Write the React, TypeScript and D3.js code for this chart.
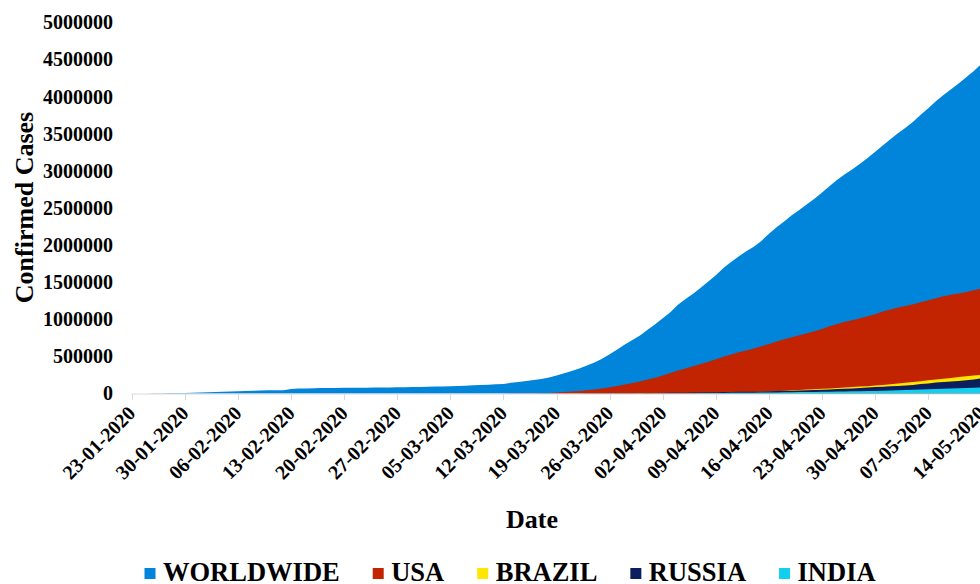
import React, { useEffect, useRef } from "react";
import * as d3 from "d3";

// Daily cumulative confirmed cases, 23-01-2020 .. 14-05-2020
const startDate = "2020-01-23";

const tickLabels = [
  "23-01-2020", "30-01-2020", "06-02-2020", "13-02-2020", "20-02-2020", "27-02-2020",
  "05-03-2020", "12-03-2020", "19-03-2020", "26-03-2020", "02-04-2020", "09-04-2020",
  "16-04-2020", "23-04-2020", "30-04-2020", "07-05-2020", "14-05-2020",
];

const yTicks = [0, 500000, 1000000, 1500000, 2000000, 2500000, 3000000, 3500000, 4000000, 4500000, 5000000];

const worldwide = [
  654, 941, 1434, 2118, 2927, 5578, 6166, 8234, 9927,
  12038, 16787, 19881, 23892, 27635, 30794, 34391, 37120, 40150, 42762, 44802, 45221, 60368, 66885, 69030,
  71224, 73258, 75136, 75639, 76197, 76819, 78572, 78958, 79561, 80406, 81388, 82746, 84112, 86011,
  88369, 90306, 92840, 95120, 97886, 101801, 105847, 109821, 113590, 118620, 125875, 128352, 145205, 156101,
  167454, 181574, 197102, 214821, 242570, 272208, 304507, 336953, 378231, 418041, 467653, 529591, 593291,
  660706, 720117, 782365, 857487,
  932605, 1013466, 1095917, 1197405, 1272115, 1345101, 1426096, 1511104, 1595350, 1691719, 1771514, 1846679,
  1917320, 1976192, 2056054, 2152437, 2240190, 2317759, 2401379, 2472259, 2549123, 2624004, 2708360, 2795735,
  2881140, 2955033, 3023722, 3097229, 3172287, 3256853,
  3343777, 3427343, 3506729, 3583055, 3662691, 3755341, 3845718, 3938064, 4024009, 4101699, 4177502, 4261747,
  4347018, 4442163,
];

const usa = [
  1, 2, 2, 5, 5, 5, 6, 6, 8,
  8, 8, 11, 11, 12, 12, 12, 12, 12, 12, 13, 13, 14, 14, 14, 14, 14, 14, 14, 14, 35, 35, 35, 53, 53, 59, 60, 62, 70,
  76, 101, 122, 153, 221, 278, 417, 537, 605, 959, 1281, 1663, 2179, 2726, 3499, 4632, 6421, 7786, 13680, 19101,
  25493, 33276, 43847, 53740, 65778, 83836, 101657, 121465, 140909, 161831, 188172,
  213242, 243622, 275367, 308650, 336802, 366317, 397121, 428654, 462780, 496535, 526396, 555313, 580619,
  607670, 636350, 667801, 699706, 732197, 759086, 784326, 811865, 840351, 869170, 905358, 938154, 965785,
  988197, 1012582, 1039909, 1069424,
  1103461, 1132539, 1158040, 1180375, 1204351, 1229331, 1257023, 1283929, 1309550, 1329260, 1347881, 1369376,
  1390406, 1417774,
];

const brazil = [
  0, 0, 0, 0, 0, 0, 0, 0, 2,
  2, 2, 2, 2, 2, 2, 2, 2, 2, 2, 2, 2, 2, 2, 2, 2, 2, 2, 2, 2, 2, 2, 2, 2, 2, 2, 2, 2, 2,
  2, 3, 3, 3, 4, 13, 13, 17, 17, 20, 20, 28, 45, 59, 63, 90, 114, 147, 199, 253, 306, 367, 438, 495, 658, 840,
  1036, 1264, 1534, 1836, 2337,
  2777, 3548, 4149, 4731, 5389, 6343, 7497, 8672, 10131, 11917, 13584, 15770, 18328, 21102, 24490, 27938,
  32008, 36793, 42853, 47121, 52763, 57999, 62773, 68622, 74588, 80949, 87147, 93558, 99399, 106498,
  114431, 124054, 134686, 145268, 155370, 165929, 177160, 187859, 198676, 209688, 221344, 232243, 242271, 252245,
];

const russia = [
  0, 0, 0, 0, 0, 0, 0, 0, 0,
  0, 0, 0, 0, 0, 0, 0, 0, 0, 0, 0, 0, 0, 0, 0, 0, 0, 0, 0, 0, 0, 0, 0, 0, 0, 1, 1, 1, 2,
  2, 2, 2, 4, 4, 13, 13, 20, 25, 31, 38, 52, 151, 151, 162, 200, 321, 372, 621, 793, 1021, 1546, 1924, 2247,
  2554, 2985, 3417, 3904, 4256, 4579, 5717,
  6836, 8044, 9056, 10360, 11130, 12161, 14034, 16170, 18092, 19638, 20727, 22192, 23430, 25262, 28320, 30425,
  33682, 36658, 38654, 40743, 43079, 45757, 50036, 54043, 59324, 63100, 67446, 73235, 79685, 87187,
  92202, 97100, 101826, 108620, 115455, 126611, 135773, 146894, 156061, 162699, 169594, 178214, 190137, 203165,
];

const india = [
  0, 0, 0, 0, 0, 0, 0, 1, 1,
  1, 2, 3, 3, 3, 3, 3, 3, 3, 3, 3, 3, 3, 3, 3, 3, 3, 3, 3, 3, 3, 3, 3, 3, 3, 3, 3, 3, 3,
  3, 5, 5, 28, 30, 31, 34, 39, 43, 56, 62, 73, 82, 102, 113, 119, 142, 156, 194, 244, 330, 396, 499, 536, 657,
  727, 887, 987, 1024, 1251, 1397,
  1998, 2543, 2567, 3082, 3588, 4778, 5311, 5916, 6725, 7598, 8446, 9205, 10453, 11487, 12322, 13430, 14352,
  15722, 17615, 18539, 20080, 21370, 23077, 24530, 26283, 27890, 29451, 31324, 33062, 34863,
  37257, 39699, 42505, 46437, 49400, 52987, 56351, 59695, 62808, 67161, 70768, 74292, 78055, 81997,
];

const seriesNames = ["WORLDWIDE", "USA", "BRAZIL", "RUSSIA", "INDIA"];
const seriesValues = [worldwide, usa, brazil, russia, india];
const seriesColors = ["#0085DB", "#C22300", "#FFE600", "#0B1F5E", "#12CFEF"];

const FONT = "'Times New Roman', 'Liberation Serif', Tinos, serif";

export default function App() {
  const ref = useRef<SVGSVGElement>(null);

  useEffect(() => {
    document.body.style.margin = "0";
    const svg = d3.select(ref.current);
    svg.selectAll("*").remove();

    const t0 = d3.utcParse("%Y-%m-%d")(startDate) as Date;
    const dates = worldwide.map((_, i) => d3.utcDay.offset(t0, i));
    const x = d3.scaleUtc().domain([t0, dates[dates.length - 1]]).range([131.7, 981.4]);
    const y = d3.scaleLinear().domain([0, 5000000]).range([393.5, 22.5]);

    // areas (overlapping, drawn in legend order)
    const area = d3
      .area<number>()
      .x((_, i) => x(dates[i]))
      .y0(y(0))
      .y1((d) => y(d));
    seriesValues.forEach((vals, si) => {
      svg.append("path").attr("d", area(vals) as string).attr("fill", seriesColors[si]);
    });

    // x axis line + ticks
    const axisColor = "#D9D9D9";
    svg
      .append("line")
      .attr("x1", x(t0))
      .attr("x2", x(dates[dates.length - 1]))
      .attr("y1", y(0) + 0.5)
      .attr("y2", y(0) + 0.5)
      .attr("stroke", axisColor)
      .attr("stroke-width", 1);

    const tickDates = tickLabels.map((_, k) => d3.utcDay.offset(t0, 7 * k));
    tickDates.forEach((d, k) => {
      const tx = Math.round(x(d)) + 0.5;
      svg
        .append("line")
        .attr("x1", tx)
        .attr("x2", tx)
        .attr("y1", y(0) + 0.5)
        .attr("y2", y(0) + 6.5)
        .attr("stroke", axisColor)
        .attr("stroke-width", 1);
      svg
        .append("text")
        .attr("transform", `translate(${x(d) + 5},${y(0) + 21}) rotate(-45)`)
        .attr("text-anchor", "end")
        .attr("font-family", FONT)
        .attr("font-weight", "bold")
        .attr("font-size", 20)
        .attr("fill", "#000")
        .text(tickLabels[k]);
    });

    // y tick labels
    yTicks.forEach((v) => {
      svg
        .append("text")
        .attr("x", 113)
        .attr("y", y(v))
        .attr("dy", "0.34em")
        .attr("text-anchor", "end")
        .attr("font-family", FONT)
        .attr("font-weight", "bold")
        .attr("font-size", 20)
        .attr("fill", "#000")
        .text(String(v));
    });

    // axis titles
    svg
      .append("text")
      .attr("transform", `translate(33,207.5) rotate(-90)`)
      .attr("text-anchor", "middle")
      .attr("font-family", FONT)
      .attr("font-weight", "bold")
      .attr("font-size", 26)
      .attr("fill", "#000")
      .text("Confirmed Cases");

    svg
      .append("text")
      .attr("x", 532)
      .attr("y", 528)
      .attr("text-anchor", "middle")
      .attr("font-family", FONT)
      .attr("font-weight", "bold")
      .attr("font-size", 26)
      .attr("fill", "#000")
      .text("Date");

    // legend
    let lx = 144.5;
    seriesNames.forEach((name, si) => {
      svg
        .append("rect")
        .attr("x", lx)
        .attr("y", 568)
        .attr("width", 11)
        .attr("height", 11)
        .attr("fill", seriesColors[si]);
      const t = svg
        .append("text")
        .attr("x", lx + 18.5)
        .attr("y", 581)
        .attr("font-family", FONT)
        .attr("font-weight", "bold")
        .attr("font-size", 26.5)
        .attr("fill", "#000")
        .text(name);
      const w = (t.node() as SVGTextElement).getComputedTextLength();
      lx = lx + 18.5 + w + 33;
    });
  }, []);

  return <svg ref={ref} width={980} height={584} style={{ display: "block" }} />;
}
